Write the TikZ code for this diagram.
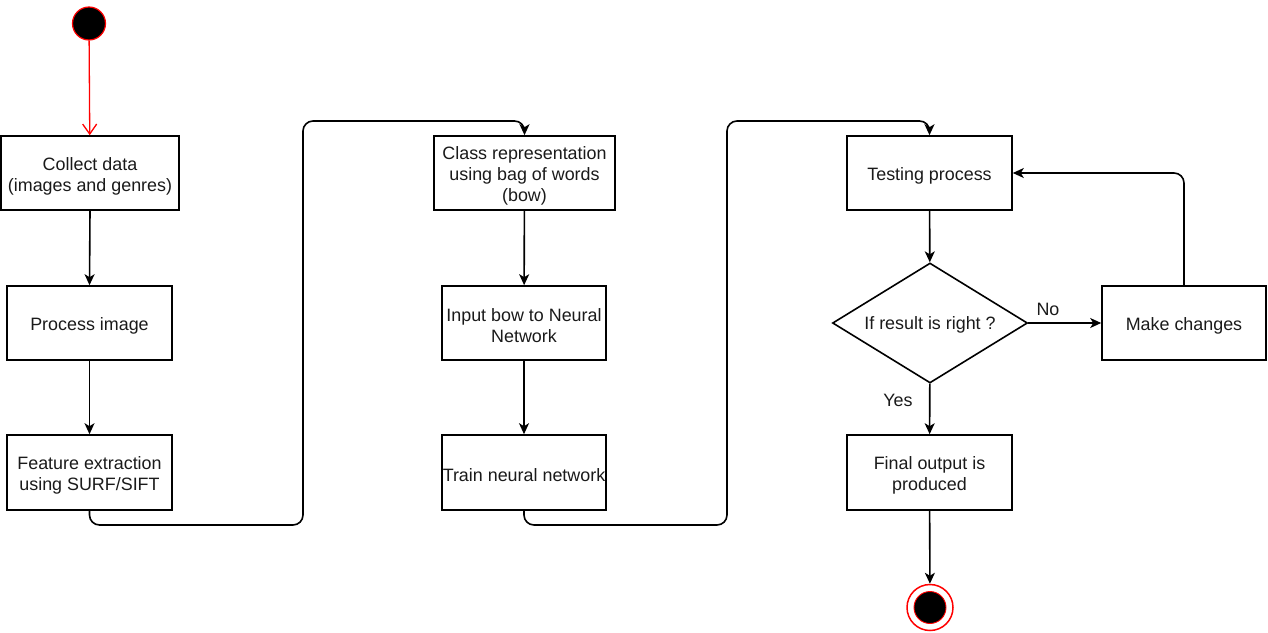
\documentclass[tikz,border=0pt]{standalone}
\usepackage{fontspec}
\setmainfont{Liberation Sans}
\usetikzlibrary{shapes.geometric,arrows.meta}
\definecolor{txt}{HTML}{1A1A1A}
\newcommand\tp{\rule{0pt}{19pt}}
\begin{document}
\begin{tikzpicture}[x=1pt,y=-1pt,
  every node/.style={font=\fontsize{17.9}{21}\selectfont, text=txt},
  box/.style={draw=black, line width=1.6pt, rectangle, inner sep=0pt, align=center, minimum width=165, minimum height=74},
  arr/.style={draw=black, line width=1.6pt, -{Stealth[length=11pt,width=10pt,inset=3pt]}},
  lbl/.style={inner sep=0pt}
]
\useasboundingbox (0,0) rectangle (1268,632);
% start / end
\node[circle, fill=black, draw=red, line width=1.2pt, minimum size=33, inner sep=0pt] (start) at (89,23.5) {};
\node[circle, draw=red, line width=1.5pt, minimum size=46, inner sep=0pt] (endo) at (930,607.5) {};
\node[circle, fill=black, draw=red, line width=0.9pt, minimum size=32, inner sep=0pt] (endi) at (930,607.5) {};
% boxes
\node[box, minimum width=178] (b1) at (90,173) {\tp Collect data\\(images and genres)};
\node[box] (b2) at (89.5,323) {\tp Process image};
\node[box, minimum height=75] (b3) at (89.5,472.5) {\tp Feature extraction\\using SURF/SIFT};
\node[box, minimum width=181] (b4) at (524.5,173) {\tp Class representation\\using bag of words\\(bow)};
\node[box, minimum width=164] (b5) at (524,323) {\tp Input bow to Neural\\Network};
\node[box, minimum width=164, minimum height=75] (b6) at (524,472.5) {\tp Train neural network};
\node[box] (b7) at (929.5,173) {\tp Testing process};
\node[draw=black, line width=1.6pt, diamond, inner sep=0pt, aspect=1.625, minimum width=195, minimum height=120] (d) at (930,323) {\rule{0pt}{17pt}If result is right ?};
\node[box, minimum width=164] (b8) at (1184,323) {\tp Make changes};
\node[box, minimum height=75] (b9) at (929.5,472.5) {\tp Final output is\\produced};
% labels
\node[lbl] (no) at (1048,309) {No};
\node[lbl] (yes) at (898,400) {Yes};
% connectors
\draw[red, line width=1.3pt, -{Straight Barb[length=10pt,width=14pt,line width=1.3pt]}] (start) -- (b1);
\draw[arr] (b1.south) -- (b2.north);
\draw[arr] (b2) -- (b3);
\draw[arr, rounded corners=10] (b3.south) -- (89.5,525) -- (303,525) -- (303,121) -- (524.5,121) -- (b4.north);
\draw[arr] (b4) -- (b5);
\draw[arr] (b5) -- (b6);
\draw[arr, rounded corners=10] (b6.south) -- (524,525) -- (727,525) -- (727,121) -- (929.5,121) -- (b7.north);
\draw[arr] (b7) -- (d);
\draw[arr] (d) -- (b8);
\draw[arr, rounded corners=10] (b8.north) |- (b7.east);
\draw[arr] (d) -- (b9);
\draw[arr] (b9) -- (endo);
\end{tikzpicture}
\end{document}
